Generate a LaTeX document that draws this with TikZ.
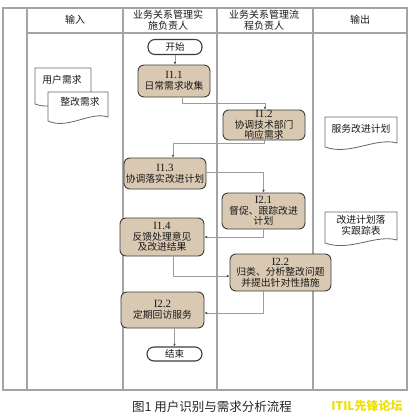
\documentclass[tikz,border=0pt]{standalone}
\usepackage{fontspec}
\setmainfont{Noto Sans CJK SC}
\newfontfamily\numfont{Liberation Serif}
\usetikzlibrary{arrows.meta,positioning}
\definecolor{framegray}{HTML}{A4A4A4}
\definecolor{linegray}{HTML}{9C9C9C}
\definecolor{boxfill}{HTML}{D9C9B3}
\definecolor{boxdraw}{HTML}{3C3C3C}
\definecolor{itilyellow}{HTML}{EDE000}
\tikzset{
  frameline/.style={draw=framegray,line width=1.3pt},
  headtxt/.style={font=\fontsize{10}{10.5}\selectfont,align=center,text=black!90,inner sep=0pt},
  procbox/.style={draw=boxdraw,fill=boxfill,line width=0.9pt,rounded corners=6pt,
    align=center,font=\fontsize{9.8}{10.6}\selectfont,inner sep=0pt,text=black!90},
  termbox/.style={draw=boxdraw,fill=white,line width=1.1pt,rounded corners=7pt,
    font=\fontsize{9.5}{10}\selectfont,inner sep=0pt,text=black!90},
  conn/.style={draw=linegray,line width=0.9pt,-{Latex[length=2.6pt,width=2.6pt,fill=black!70,color=black!70]}},
  doctxt/.style={font=\fontsize{9.8}{11}\selectfont,align=center,inner sep=0pt,text=black!90},
  docshape/.style={draw=black!60,fill=white,line width=0.8pt},
  numtxt/.style={},
}
\newcommand{\lbl}[1]{{\numfont\fontsize{11}{10.6}\selectfont #1}}
\begin{document}
\begin{tikzpicture}[x=1pt,y=-1pt]
\useasboundingbox (0,0) rectangle (412,418);
% frame
\draw[frameline] (3,8) rectangle (407,390);
\draw[frameline] (27,8) -- (27,390);
\draw[frameline] (123,8) -- (123,390);
\draw[frameline] (217,8) -- (217,390);
\draw[frameline] (313,8) -- (313,390);
\draw[frameline] (27,33) -- (407,33);
% headers
\node[headtxt] (h1) at (75,20) {输入};
\node[headtxt] (h2) at (168,20) {业务关系管理实\\施负责人};
\node[headtxt] (h3) at (264,20) {业务关系管理流\\程负责人};
\node[headtxt] (h4) at (360,20) {输出};
% process nodes
\node[termbox,minimum width=54pt,minimum height=15pt] (start) at (175,47) {开始};
\node[procbox,minimum width=72pt,minimum height=32pt] (n11) at (174,81) {\lbl{I1.1}\\日常需求收集};
\node[procbox,minimum width=82pt,minimum height=30pt] (n12) at (264,125) {\lbl{I1.2}\\协调技术部门\\响应需求};
\node[procbox,minimum width=82pt,minimum height=31pt] (n13) at (165,173.5) {\lbl{I1.3}\\协调落实改进计划};
\node[procbox,minimum width=83pt,minimum height=36pt] (n21) at (263.5,211) {\lbl{I2.1}\\督促、跟踪改进\\计划};
\node[procbox,minimum width=84pt,minimum height=38pt] (n14) at (162,237) {\lbl{I1.4}\\反馈处理意见\\及改进结果};
\node[procbox,minimum width=101pt,minimum height=37pt] (n22a) at (280.5,272.5) {\lbl{I2.2}\\归类、分析整改问题\\并提出针对性措施};
\node[procbox,minimum width=83pt,minimum height=36pt] (n22b) at (162.5,310) {\lbl{I2.2}\\定期回访服务};
\node[termbox,minimum width=55pt,minimum height=14pt] (end) at (174.5,354) {结束};
% connectors
\draw[conn] (start.south) -- (start.south |- n11.north);
\draw[conn] ([xshift=8pt]n11.south) -- ++(0,6) -| ([xshift=1pt]n12.north);
\draw[conn] (n12.south) -- ++(0,3) -| ([xshift=8pt]n13.north);
\draw[conn] ([yshift=1.5pt]n13.east) -| (n21.north);
\draw[conn] (n21.south) |- (n14.east);
\draw[conn] ([xshift=11pt]n14.south) |- ([yshift=-3.5pt]n22a.west);
\draw[conn] ([xshift=-17.5pt]n22a.south) |- ([yshift=-3pt]n22b.east);
\draw[conn] (end.north |- n22b.south) -- (end.north);
% documents
\draw[docshape] (35,68) -- (91,68) -- (91,100) .. controls (75,93) and (55,112) .. (35,104) -- cycle;
\node[doctxt] (d1) at (62,80) {用户需求};
\draw[docshape] (48,92) -- (108,92) -- (108,117) .. controls (90,111) and (68,130) .. (48,121) -- cycle;
\node[doctxt] (d2) at (80,102) {整改需求};
\draw[docshape] (325,117) -- (397,117) -- (397,143) .. controls (375,137) and (350,156) .. (325,147) -- cycle;
\node[doctxt] (d3) at (361,129) {服务改进计划};
\draw[docshape] (325,212) -- (397,212) -- (397,240) .. controls (375,234) and (350,252) .. (325,243) -- cycle;
\node[doctxt] (d4) at (361,225) {改进计划落\\实跟踪表};
% caption
\node[font=\fontsize{12.5}{13}\selectfont,text=black!85,inner sep=0pt] (cap) at (212,407) {图1 用户识别与需求分析流程};
\node[font=\fontsize{12}{12}\selectfont\bfseries,text=itilyellow,inner sep=0pt] (itil) at (367,406) {ITIL先锋论坛};
\end{tikzpicture}
\end{document}
